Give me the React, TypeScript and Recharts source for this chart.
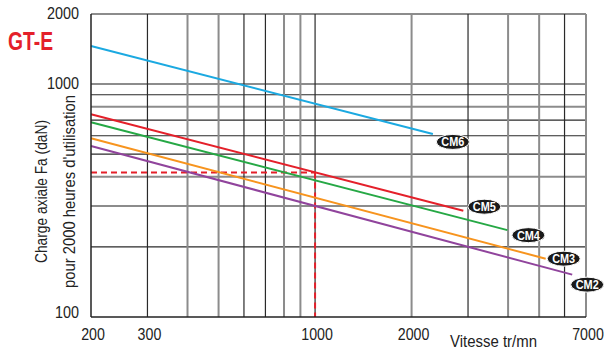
import React from 'react';
import { LineChart, Line, XAxis, YAxis, ReferenceLine } from 'recharts';

// Speeds (tr/mn) and axial loads (daN)
const cm6Speed = [200, 2330];
const cm6Load = [1458, 611];
const cm5Speed = [200, 2900];
const cm5Load = [742, 286];
const cm4Speed = [200, 3980];
const cm4Load = [686, 236];
const cm3Speed = [200, 5240];
const cm3Load = [585, 178];
const cm2Speed = [200, 6340];
const cm2Load = [542, 152];

const guideHSpeed = [200, 1000];
const guideHLoad = [417, 417];
const guideVSpeed = [1000, 1000];
const guideVLoad = [417, 100];

const xGrid = [300, 400, 500, 600, 700, 800, 900, 1000, 2000, 3000, 4000, 5000, 6000, 7000];
const xGray = [400, 500, 800, 900, 2000, 4000, 5000, 7000];
const yGrid = [200, 300, 400, 500, 600, 700, 800, 900, 1000, 2000];
const yGray = [300, 400, 800, 1000, 2000];

const xTicks = [200, 300, 400, 500, 600, 700, 800, 900, 1000, 2000, 3000, 4000, 5000, 6000, 7000];
const xTickLabels = [200, 300, 1000, 2000, 7000];
const yTicks = [100, 200, 300, 400, 500, 600, 700, 800, 900, 1000, 2000];
const yTickLabels = [100, 1000, 2000];

const zip = (xs: number[], ys: number[]) => xs.map((x, i) => ({ x, y: ys[i] }));

const FONT = '"Liberation Sans", Arial, sans-serif';

const series = [
  { name: 'CM6', data: zip(cm6Speed, cm6Load), color: '#1ba9e1', dx: 20, dy: 8 },
  { name: 'CM5', data: zip(cm5Speed, cm5Load), color: '#e4202a', dx: 21, dy: -4 },
  { name: 'CM4', data: zip(cm4Speed, cm4Load), color: '#26a845', dx: 21, dy: 5 },
  { name: 'CM3', data: zip(cm3Speed, cm3Load), color: '#f7941e', dx: 18, dy: 0 },
  { name: 'CM2', data: zip(cm2Speed, cm2Load), color: '#90449c', dx: 15, dy: 10 },
];

const makeBadge = (name: string, dx: number, dy: number, last: number) => (props: any) => {
  const { cx, cy, index } = props;
  if (index !== last) return <g key={`d-${name}-${index}`} />;
  return (
    <g key={`d-${name}-${index}`}>
      <ellipse cx={cx + dx} cy={cy + dy} rx={16.5} ry={7.5} fill="#1a1a1a" stroke="#fff" strokeWidth={1} />
      <text
        x={cx + dx}
        y={cy + dy + 4.5}
        textAnchor="middle"
        fill="#fff"
        fontSize={13}
        fontWeight="bold"
        fontFamily={FONT}
        textLength={23}
        lengthAdjust="spacingAndGlyphs"
      >
        {name}
      </text>
    </g>
  );
};

const XTick = (props: any) => {
  const { x, payload } = props;
  if (!xTickLabels.includes(payload.value)) return <g />;
  const s = String(payload.value);
  return (
    <text
      x={x + 2}
      y={340}
      textAnchor="middle"
      fill="#222"
      fontSize={16.5}
      fontFamily={FONT}
      textLength={s.length * 7.9}
      lengthAdjust="spacingAndGlyphs"
    >
      {s}
    </text>
  );
};

const YTick = (props: any) => {
  const { y, payload } = props;
  if (!yTickLabels.includes(payload.value)) return <g />;
  const s = String(payload.value);
  return (
    <text
      x={79}
      y={Math.min(y + 4.5, 318)}
      textAnchor="end"
      fill="#222"
      fontSize={17}
      fontFamily={FONT}
      textLength={s.length * 8}
      lengthAdjust="spacingAndGlyphs"
    >
      {s}
    </text>
  );
};

export default function App() {
  return (
    <div style={{ position: 'absolute', left: 0, top: 0, width: 608, height: 352, background: '#fff' }}>
      <LineChart width={608} height={352} margin={{ top: 14, right: 22, bottom: 0, left: 0 }}>
        <XAxis
          dataKey="x"
          type="number"
          scale="log"
          domain={[200, 7000]}
          ticks={xTicks}
          height={35}
          tickLine={false}
          axisLine={{ stroke: '#222', strokeWidth: 1.5 }}
          tick={<XTick />}
          interval={0}
        />
        <YAxis
          dataKey="y"
          type="number"
          scale="log"
          domain={[100, 2000]}
          ticks={yTicks}
          width={91}
          tickLine={false}
          axisLine={{ stroke: '#222', strokeWidth: 1.5 }}
          tick={<YTick />}
          interval={0}
        />
        {yGrid.map((v) => (
          <ReferenceLine
            key={`h${v}`}
            y={v}
            stroke={yGray.includes(v) ? '#8c8c8c' : '#2a2a2a'}
            strokeWidth={yGray.includes(v) ? 2 : 1.2}
          />
        ))}
        {xGrid.map((v) => (
          <ReferenceLine
            key={`v${v}`}
            x={v}
            stroke={xGray.includes(v) ? '#8c8c8c' : '#2a2a2a'}
            strokeWidth={xGray.includes(v) ? 2 : 1.2}
          />
        ))}
        <Line data={zip(guideHSpeed, guideHLoad)} dataKey="y" stroke="#e4202a" strokeWidth={2} strokeDasharray="6 4" dot={false} activeDot={false} isAnimationActive={false} />
        <Line data={zip(guideVSpeed, guideVLoad)} dataKey="y" stroke="#e4202a" strokeWidth={2} strokeDasharray="6 4" dot={false} activeDot={false} isAnimationActive={false} />
        {series.map((s) => (
          <Line
            key={s.name}
            data={s.data}
            dataKey="y"
            name={s.name}
            stroke={s.color}
            strokeWidth={2}
            dot={makeBadge(s.name, s.dx, s.dy, s.data.length - 1)}
            activeDot={false}
            isAnimationActive={false}
          />
        ))}
      </LineChart>
      <svg width={608} height={352} style={{ position: 'absolute', left: 0, top: 0, pointerEvents: 'none' }}>
        <text x={8} y={50} fill="#e4202a" fontSize={25} fontWeight="bold" fontFamily={FONT} textLength={45} lengthAdjust="spacingAndGlyphs">
          GT-E
        </text>
        <text x={450} y={347} fill="#222" fontSize={16} fontFamily={FONT} textLength={87} lengthAdjust="spacingAndGlyphs">
          Vitesse tr/mn
        </text>
        <text
          transform="translate(47,191.5) rotate(-90)"
          textAnchor="middle"
          fill="#222"
          fontSize={16}
          fontFamily={FONT}
          textLength={143}
          lengthAdjust="spacingAndGlyphs"
        >
          Charge axiale Fa (daN)
        </text>
        <text
          transform="translate(75,191.5) rotate(-90)"
          textAnchor="middle"
          fill="#222"
          fontSize={16}
          fontFamily={FONT}
          textLength={193}
          lengthAdjust="spacingAndGlyphs"
        >
          pour 2000 heures d'utilisation
        </text>
      </svg>
    </div>
  );
}
